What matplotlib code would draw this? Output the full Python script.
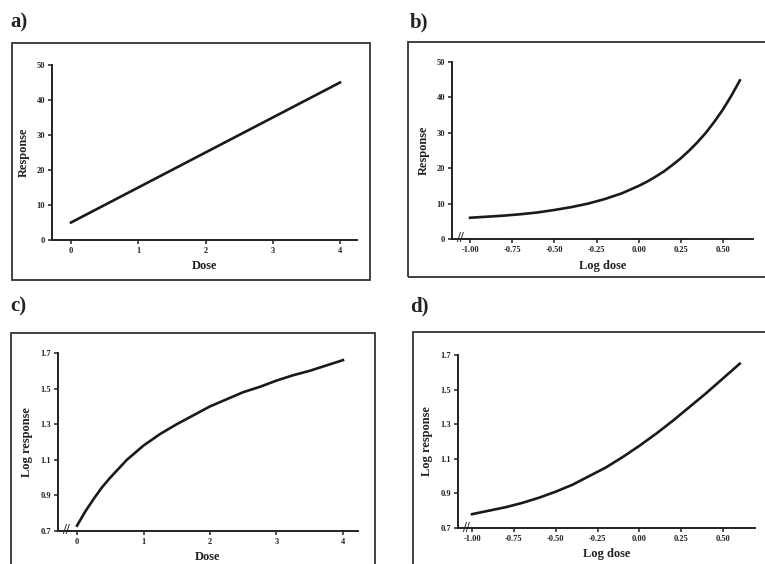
import matplotlib as mpl
import matplotlib.pyplot as plt
from matplotlib.patches import Rectangle

plt.close('all')

# a) Response vs dose
dose_a = [0, 0.5, 1, 1.5, 2, 2.5, 3, 3.5, 4]
resp_a = [5, 10, 15, 20, 25, 30, 35, 40, 45]

# b) Response vs log dose
logdose_b = [-1.0, -0.9, -0.8, -0.7, -0.6, -0.5, -0.4, -0.3, -0.2, -0.1,
             0.0, 0.05, 0.1, 0.15, 0.2, 0.25, 0.3, 0.35, 0.4, 0.45, 0.5, 0.55, 0.6]
resp_b = [6.0, 6.3, 6.6, 7.0, 7.5, 8.2, 9.0, 10.0, 11.3, 12.9,
          15.0, 16.2, 17.6, 19.1, 20.9, 22.8, 25.0, 27.4, 30.1, 33.2, 36.6, 40.5, 44.8]

# c) Log response vs dose
dose_c = [0, 0.125, 0.25, 0.375, 0.5, 0.625, 0.75, 0.875, 1, 1.25, 1.5, 1.75,
          2, 2.25, 2.5, 2.75, 3, 3.25, 3.5, 3.75, 4]
logresp_c = [0.73, 0.81, 0.88, 0.945, 1.00, 1.05, 1.10, 1.14, 1.18, 1.245,
             1.30, 1.35, 1.40, 1.44, 1.48, 1.51, 1.545, 1.575, 1.60, 1.63, 1.66]

# d) Log response vs log dose
logdose_d = [-1.0, -0.9, -0.8, -0.7, -0.6, -0.5, -0.4, -0.3, -0.2, -0.1,
             0.0, 0.1, 0.2, 0.3, 0.4, 0.5, 0.6]
logresp_d = [0.78, 0.80, 0.82, 0.845, 0.875, 0.91, 0.95, 1.00, 1.05, 1.11,
             1.175, 1.245, 1.32, 1.40, 1.48, 1.565, 1.65]

ticks_dose = [0, 1, 2, 3, 4]
ticks_logdose = [-1.0, -0.75, -0.5, -0.25, 0.0, 0.25, 0.5]
ticklab_logdose = ['-1.00', '-0.75', '-0.50', '-0.25', '0.00', '0.25', '0.50']
ticks_resp = [0, 10, 20, 30, 40, 50]
ticks_logresp = [0.7, 0.9, 1.1, 1.3, 1.5, 1.7]

params = {'font.family': 'Liberation Serif', 'font.weight': 'bold',
          'axes.labelweight': 'bold'}
mpl.rcParams.update(params)

W, H = 765, 564
fig = plt.figure(figsize=[7.65, 5.64], dpi=100)


def px(l, t, r, b):
    return (l / W, (H - b) / H, (r - l) / W, (b - t) / H)


# frames round each panel
for (l, t, r, b) in [(12, 43, 370, 280), (408, 42, 768, 277),
                     (11, 333, 375, 570), (413, 332, 768, 570)]:
    fig.patches.append(Rectangle((l / W, (H - b) / H), (r - l) / W, (b - t) / H,
                                 transform=fig.transFigure, fill=False,
                                 edgecolor='#333333', linewidth=1.3, clip_on=False))

for lab, x, y in [('a)', 10, 22), ('b)', 410, 22), ('c)', 10, 306), ('d)', 410, 306)]:
    fig.text(x / W, (H - y) / H, lab, fontsize=15, fontweight='bold',
             va='center', ha='left', color='#222222')


def panel(rect, x, y, xlim, ylim, xt, xtl, yt, ytl, xl, yl, brk):
    ax = fig.add_axes(px(*rect))
    ax.plot(x, y, '-', color='#1a1a1a', linewidth=1.9, solid_joinstyle='round')
    ax.set_xlim(xlim)
    ax.set_ylim(ylim)
    ax.spines['top'].set_visible(False)
    ax.spines['right'].set_visible(False)
    for s in ['left', 'bottom']:
        ax.spines[s].set_linewidth(1.4)
        ax.spines[s].set_color('#222222')
    ax.set_xticks(xt)
    ax.set_xticklabels(xtl)
    ax.set_yticks(yt)
    ax.set_yticklabels(ytl)
    ax.tick_params(labelsize=6, length=3, width=1.1, pad=2, colors='#222222')
    ax.set_xlabel(xl, fontsize=9, labelpad=4, color='#222222')
    ax.set_ylabel(yl, fontsize=9, labelpad=5, color='#222222')
    if brk:
        ax.text(0.028, 0.0, '//', transform=ax.transAxes, fontsize=10,
                ha='center', va='center', color='#222222')
    return ax


panel((52, 65, 357, 240), dose_a, resp_a, (-0.283, 4.253), (0, 50),
      ticks_dose, [str(v) for v in ticks_dose], ticks_resp,
      [str(v) for v in ticks_resp], 'Dose', 'Response', False)

panel((452, 62, 753, 239), logdose_b, resp_b, (-1.107, 0.678), (0, 50),
      ticks_logdose, ticklab_logdose, ticks_resp,
      [str(v) for v in ticks_resp], 'Log dose', 'Response', True)

panel((58, 353, 358, 531), dose_c, logresp_c, (-0.286, 4.226), (0.7, 1.7),
      ticks_dose, [str(v) for v in ticks_dose], ticks_logresp,
      ['%.1f' % v for v in ticks_logresp], 'Dose', 'Log response', True)

panel((458, 355, 755, 528), logdose_d, logresp_d, (-1.084, 0.691), (0.7, 1.7),
      ticks_logdose, ticklab_logdose, ticks_logresp,
      ['%.1f' % v for v in ticks_logresp], 'Log dose', 'Log response', True)

plt.savefig('out.png', dpi=100)
